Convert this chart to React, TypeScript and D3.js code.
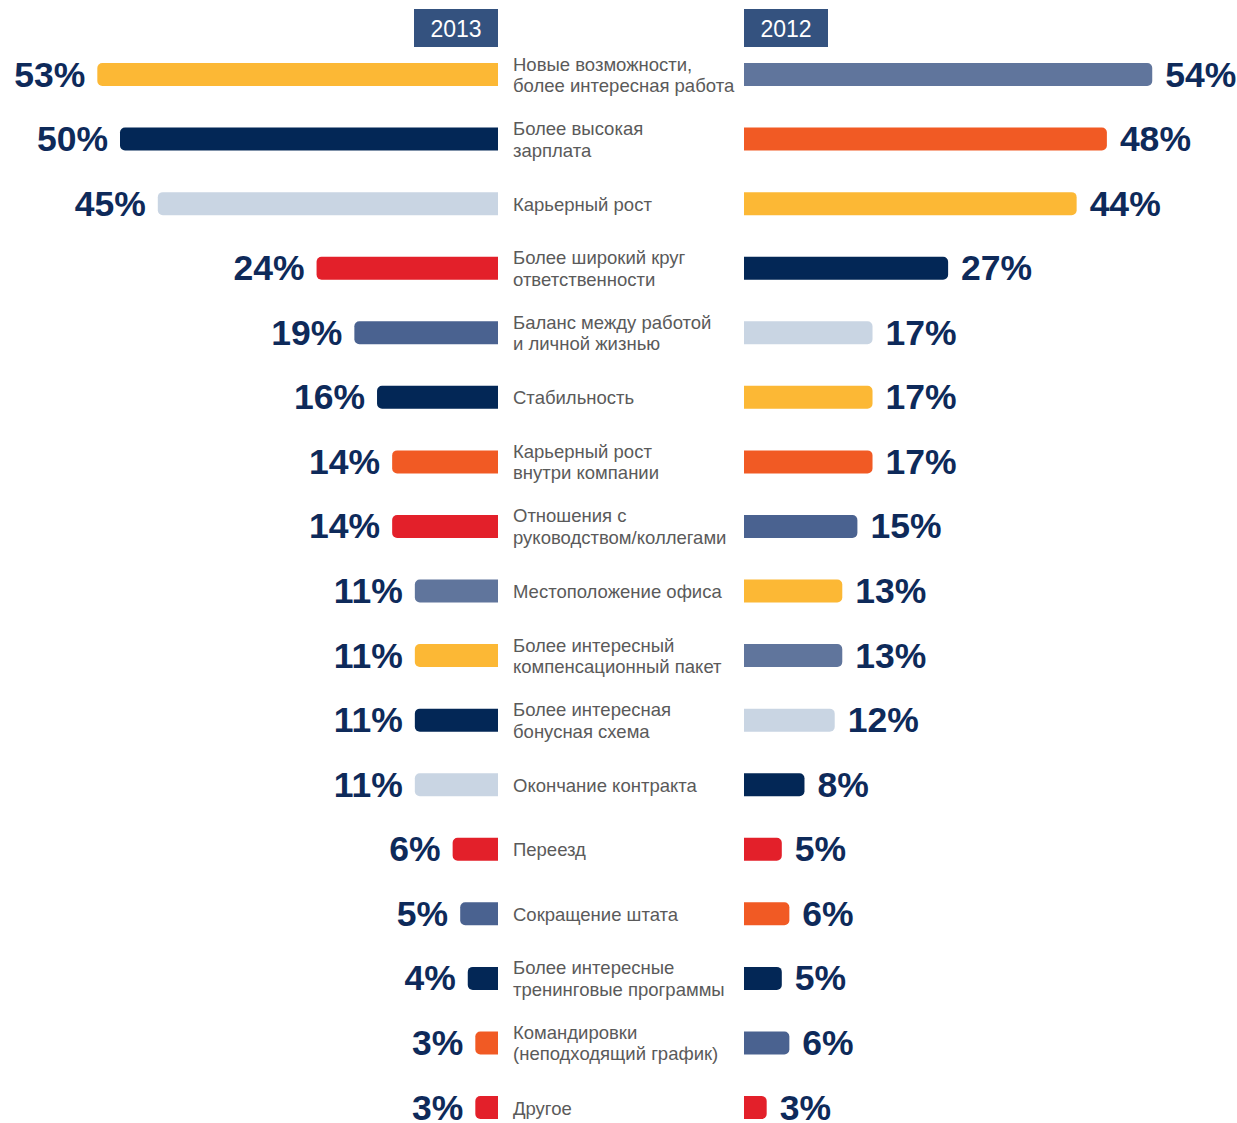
import React from "react";
import * as d3 from "d3";

const categories: string[][] = [
  ["Новые возможности,", "более интересная работа"],
  ["Более высокая", "зарплата"],
  ["Карьерный рост"],
  ["Более широкий круг", "ответственности"],
  ["Баланс между работой", "и личной жизнью"],
  ["Стабильность"],
  ["Карьерный рост", "внутри компании"],
  ["Отношения с", "руководством/коллегами"],
  ["Местоположение офиса"],
  ["Более интересный", "компенсационный пакет"],
  ["Более интересная", "бонусная схема"],
  ["Окончание контракта"],
  ["Переезд"],
  ["Сокращение штата"],
  ["Более интересные", "тренинговые программы"],
  ["Командировки", "(неподходящий график)"],
  ["Другое"],
];

const values2013: number[] = [53, 50, 45, 24, 19, 16, 14, 14, 11, 11, 11, 11, 6, 5, 4, 3, 3];
const values2012: number[] = [54, 48, 44, 27, 17, 17, 17, 15, 13, 13, 12, 8, 5, 6, 5, 6, 3];

const YELLOW = "#fcb835";
const NAVY = "#032756";
const LIGHT = "#c9d5e3";
const RED = "#e3202a";
const SLATE = "#4a6290";
const ORANGE = "#f15a24";
const MEDIUM = "#60759c";

const colors2013: string[] = [YELLOW, NAVY, LIGHT, RED, SLATE, NAVY, ORANGE, RED, MEDIUM, YELLOW, NAVY, LIGHT, RED, SLATE, NAVY, ORANGE, RED];
const colors2012: string[] = [MEDIUM, ORANGE, YELLOW, NAVY, LIGHT, YELLOW, ORANGE, SLATE, YELLOW, MEDIUM, LIGHT, NAVY, RED, ORANGE, NAVY, SLATE, RED];

const years: string[] = ["2013", "2012"];

const W = 1237;
const H = 1123;
const LEFT_EDGE = 498;
const RIGHT_EDGE = 744;
const PX_PER_PCT = 7.56;
const BAR_H = 23;
const R = 5;

function barPath(x0: number, x1: number, yc: number, roundLeft: boolean): string {
  const t = yc - BAR_H / 2;
  const b = yc + BAR_H / 2;
  const p = d3.path();
  if (roundLeft) {
    p.moveTo(x1, t);
    p.lineTo(x0 + R, t);
    p.arcTo(x0, t, x0, t + R, R);
    p.lineTo(x0, b - R);
    p.arcTo(x0, b, x0 + R, b, R);
    p.lineTo(x1, b);
    p.closePath();
  } else {
    p.moveTo(x0, t);
    p.lineTo(x1 - R, t);
    p.arcTo(x1, t, x1, t + R, R);
    p.lineTo(x1, b - R);
    p.arcTo(x1, b, x1 - R, b, R);
    p.lineTo(x0, b);
    p.closePath();
  }
  return p.toString();
}

export default function App() {
  const xLeft = d3.scaleLinear().domain([0, 100]).range([LEFT_EDGE, LEFT_EDGE - 100 * PX_PER_PCT]);
  const xRight = d3.scaleLinear().domain([0, 100]).range([RIGHT_EDGE, RIGHT_EDGE + 100 * PX_PER_PCT]);
  const y = d3
    .scalePoint<number>()
    .domain(d3.range(categories.length))
    .range([74.5, 1107.5]);

  const font = "'Liberation Sans', Arial, Helvetica, sans-serif";

  return (
    <svg width={W} height={H} style={{ position: "absolute", left: 0, top: 0, background: "#fff" }}>
      <g>
        <rect x={414} y={9} width={84} height={38} fill="#34527f" />
        <text x={456} y={36.5} textAnchor="middle" fill="#fff" fontSize={23} fontFamily={font}>
          {years[0]}
        </text>
        <rect x={744} y={9} width={84} height={38} fill="#34527f" />
        <text x={786} y={36.5} textAnchor="middle" fill="#fff" fontSize={23} fontFamily={font}>
          {years[1]}
        </text>
      </g>
      {categories.map((lines, i) => {
        const yc = y(i) as number;
        const l0 = xLeft(values2013[i]);
        const r1 = xRight(values2012[i]);
        return (
          <g key={i}>
            <path d={barPath(l0, LEFT_EDGE, yc, true)} fill={colors2013[i]} />
            <path d={barPath(RIGHT_EDGE, r1, yc, false)} fill={colors2012[i]} />
            <text
              x={l0 - 12}
              y={yc + 12}
              textAnchor="end"
              fill="#0e2a5a"
              fontSize={35.5}
              fontWeight="bold"
              fontFamily={font}
            >
              {values2013[i]}%
            </text>
            <text
              x={r1 + 13}
              y={yc + 12}
              textAnchor="start"
              fill="#0e2a5a"
              fontSize={35.5}
              fontWeight="bold"
              fontFamily={font}
            >
              {values2012[i]}%
            </text>
            {lines.length === 1 ? (
              <text x={513} y={yc + 7} fill="#5a5a5a" fontSize={18.5} fontFamily={font}>
                {lines[0]}
              </text>
            ) : (
              lines.map((ln, k) => (
                <text key={k} x={513} y={yc - 4 + k * 21.5} fill="#5a5a5a" fontSize={18.5} fontFamily={font}>
                  {ln}
                </text>
              ))
            )}
          </g>
        );
      })}
    </svg>
  );
}
